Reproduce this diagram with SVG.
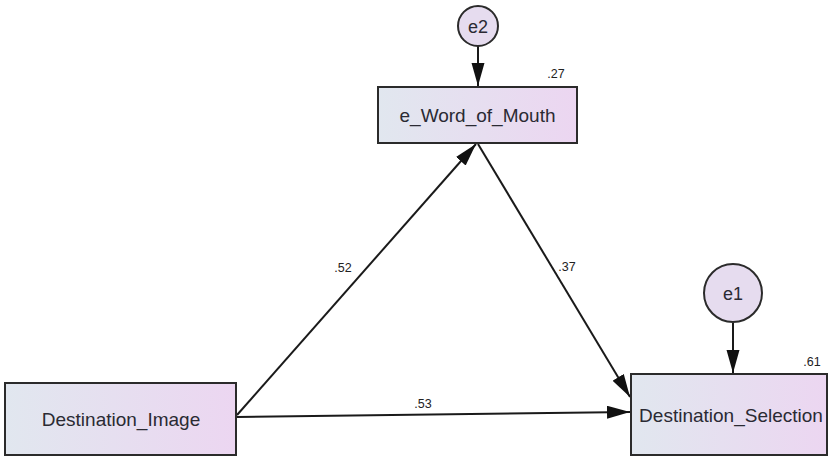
<svg xmlns="http://www.w3.org/2000/svg" width="829" height="459" viewBox="0 0 829 459">
  <style>
    .box { fill: url(#boxFill); stroke: #2b2b2b; stroke-width: 2; }
    .err { fill: #e6dcef; stroke: #2b2b2b; stroke-width: 2; }
    .name { font-family: "Liberation Sans", Arial, sans-serif; font-size: 19px; fill: #2a2a33; text-anchor: middle; }
    .ename { font-family: "Liberation Sans", Arial, sans-serif; font-size: 18px; fill: #2a2a33; text-anchor: middle; }
    .coef { font-family: "Liberation Sans", Arial, sans-serif; font-size: 12.5px; fill: #222; text-anchor: middle; }
    .path { stroke: #1a1a1a; stroke-width: 2; fill: none; marker-end: url(#arrow); }
  </style>
  <defs>
    <linearGradient id="boxFill" x1="0" y1="0" x2="1" y2="0">
      <stop offset="0" stop-color="#e1e7ef"/>
      <stop offset="1" stop-color="#ecd6f1"/>
    </linearGradient>
    <marker id="arrow" markerUnits="userSpaceOnUse" markerWidth="24" markerHeight="14" refX="23" refY="6.5" orient="auto">
      <path d="M0,0 L23,6.5 L0,13 Z" fill="#111"/>
    </marker>
  </defs>

  <rect width="829" height="459" fill="#ffffff"/>

  <!-- structural paths -->
  <g id="connectors">
    <line class="path" x1="237" y1="415" x2="476" y2="144"/>
    <line class="path" x1="478" y1="144" x2="630" y2="397"/>
    <line class="path" x1="237" y1="417" x2="630" y2="412"/>
    <line class="path" x1="478" y1="46" x2="478" y2="86"/>
    <line class="path" x1="733" y1="323" x2="733" y2="373"/>
    <text class="coef" x="343" y="272">.52</text>
    <text class="coef" x="567" y="271">.37</text>
    <text class="coef" x="423" y="408">.53</text>
  </g>

  <g id="e2">
    <circle class="err" cx="478" cy="26" r="20"/>
    <text class="ename" x="478" y="33">e2</text>
  </g>

  <g id="e1">
    <circle class="err" cx="733" cy="293" r="29"/>
    <text class="ename" x="733" y="300">e1</text>
  </g>

  <g id="e_Word_of_Mouth">
    <rect class="box" x="378" y="87" width="199" height="56"/>
    <text class="name" x="477.5" y="122">e_Word_of_Mouth</text>
    <text class="coef" x="556" y="78">.27</text>
  </g>

  <g id="Destination_Image">
    <rect class="box" x="5" y="383" width="231" height="72"/>
    <text class="name" x="121" y="426">Destination_Image</text>
  </g>

  <g id="Destination_Selection">
    <rect class="box" x="631" y="374" width="196" height="81"/>
    <text class="name" x="731" y="422">Destination_Selection</text>
    <text class="coef" x="812" y="366">.61</text>
  </g>
</svg>
